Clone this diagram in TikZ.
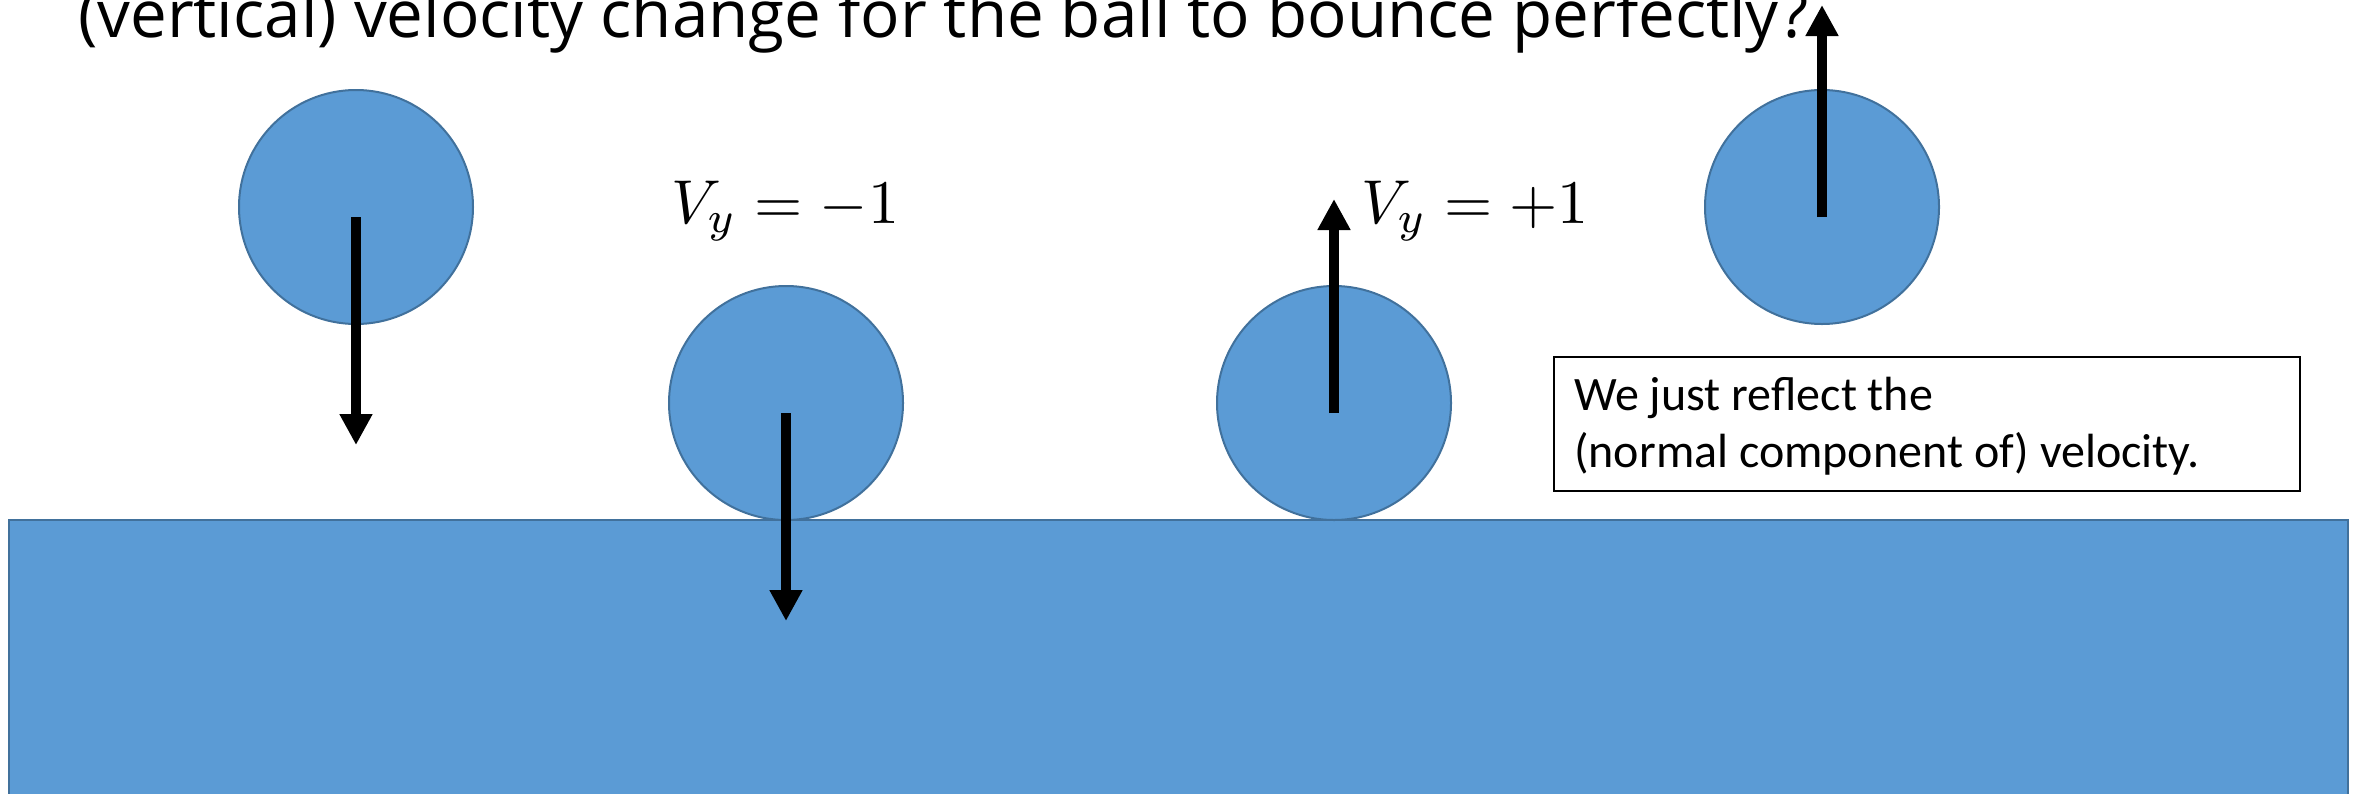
\documentclass[tikz,border=0pt]{standalone}
\usepackage{fontspec}
\usepackage{graphicx}
\setmainfont{Carlito}
\newfontfamily\titlefont{Open Sans}
\usetikzlibrary{arrows.meta}
\definecolor{ballfill}{HTML}{5B9BD5}
\definecolor{balledge}{HTML}{41719C}
\tikzset{
  ball/.style={circle, fill=ballfill, draw=balledge, line width=2pt, minimum size=234pt, inner sep=0pt},
  vel/.style={line width=10.5pt, -{Triangle[width=31pt,length=31pt]}},
  note/.style={draw=black, line width=2pt, fill=white, minimum width=746pt, minimum height=134pt, inner sep=0pt, anchor=north west},
  lbl/.style={inner sep=0pt, anchor=base west},
}
\newcommand{\biglabel}[1]{\scalebox{6.2}{$#1$}}
\begin{document}
\begin{tikzpicture}[x=1pt,y=-1pt]
\useasboundingbox (0,0) rectangle (2364,793);
% title (cut at the top edge, as in the reference)
\node[inner sep=0pt, anchor=base west, font=\titlefont\fontsize{65.5}{78}\selectfont] (title) at (78,37) {(vertical) velocity change for the ball to bounce perfectly?};
% ground
\node[fill=ballfill, draw=balledge, line width=2pt, anchor=north west, minimum width=2339pt, minimum height=300pt, inner sep=0pt] (ground) at (8,519) {};
% balls
\node[ball] (b1) at (356,207) {};
\node[ball] (b2) at (786,403) {};
\node[ball] (b3) at (1334,403) {};
\node[ball] (b4) at (1822,207) {};
% arrow ends
\coordinate (e1) at (356,445);
\coordinate (e2) at (786,621);
\coordinate (e3) at (1334,199);
\coordinate (e4) at (1822,5);
\draw[vel] ([yshift=-10pt]b1.center) -- (e1);
\draw[vel] ([yshift=-10pt]b2.center) -- (e2);
\draw[vel] ([yshift=-10pt]b3.center) -- (e3);
\draw[vel] ([yshift=-10pt]b4.center) -- (e4);
% labels
\node[lbl] (l1) at (671,223) {\biglabel{V_y \mathrel{=} -1}};
\node[lbl] (l2) at (1361,223) {\biglabel{V_y \mathrel{=} +1}};
% note box
\node[note] (box) at (1553,356) {};
\node[inner sep=0pt, anchor=base west, align=left, font=\fontsize{48}{57}\selectfont] (boxtext) at (1574,467) {We just reflect the\\(normal component of) velocity.};
\end{tikzpicture}
\end{document}
